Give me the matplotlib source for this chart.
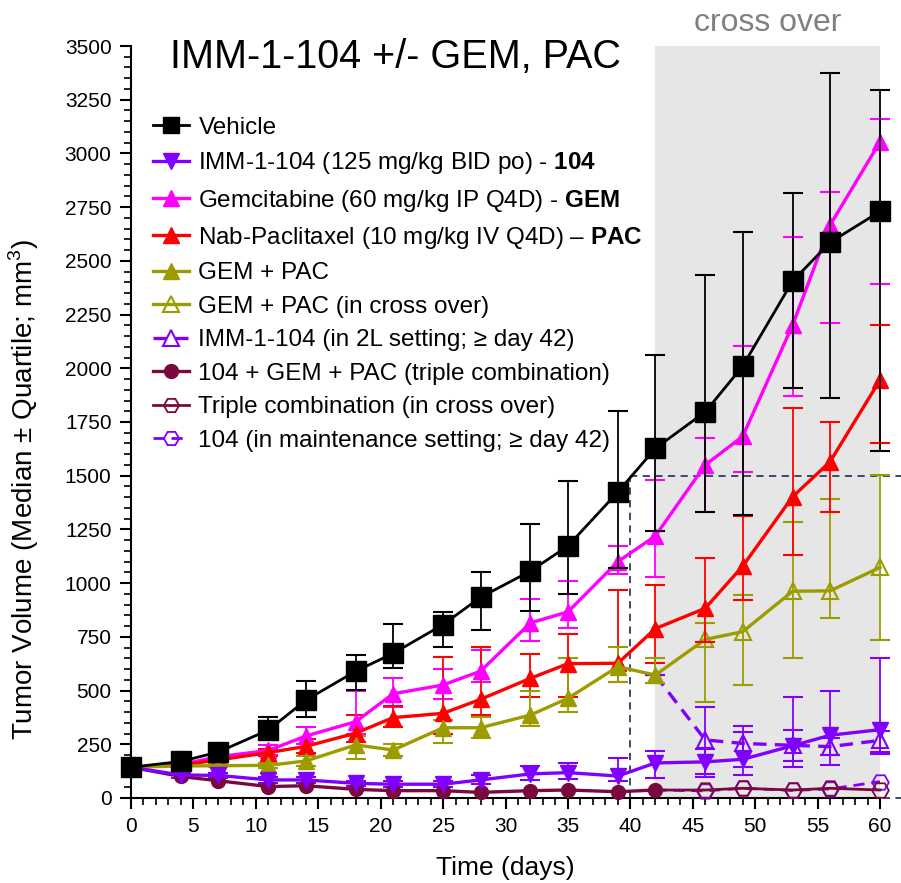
import numpy as np
import matplotlib.pyplot as plt
from matplotlib.lines import Line2D
from matplotlib.ticker import MultipleLocator

plt.rcParams['font.family'] = ['Liberation Sans', 'DejaVu Sans']
plt.rcParams['mathtext.fontset'] = 'custom'
plt.rcParams['mathtext.bf'] = 'Liberation Sans:bold'
plt.rcParams['mathtext.rm'] = 'Liberation Sans'

# study days
days = [0, 4, 7, 11, 14, 18, 21, 25, 28, 32, 35, 39, 42, 46, 49, 53, 56, 60]
days_pre = days[:13]          # 0..42
days_co = days[12:]           # 42..60 (cross over)

# Vehicle
veh = [143, 170, 214, 316, 455, 590, 673, 807, 934, 1056, 1173, 1424, 1627, 1797, 2010, 2406, 2586, 2730]
veh_lo = [135, 160, 200, 279, 378, 502, 605, 704, 783, 872, 949, 1071, 1242, 1332, 1317, 1907, 1863, 1615]
veh_hi = [150, 180, 228, 377, 543, 667, 810, 864, 1054, 1277, 1476, 1803, 2061, 2434, 2632, 2816, 3375, 3295]

# IMM-1-104
imm = [143, 107, 105, 84, 84, 68, 64, 64, 84, 112, 118, 102, 163, 168, 180, 243, 292, 318]
imm_lo = [138, 95, 92, 70, 70, 55, 50, 50, 65, 85, 90, 80, 92, 110, 107, 146, 154, 205]
imm_hi = [148, 118, 118, 98, 98, 80, 78, 78, 105, 150, 165, 185, 219, 230, 309, 468, 499, 653]

# Gemcitabine
gem = [143, 156, 192, 221, 288, 355, 485, 526, 590, 815, 866, 1100, 1219, 1550, 1683, 2201, 2666, 3054]
gem_lo = [135, 148, 180, 200, 250, 300, 425, 460, 541, 732, 792, 1042, 1030, 1332, 1518, 1871, 2213, 2390]
gem_hi = [150, 165, 205, 245, 331, 500, 557, 600, 689, 926, 1011, 1173, 1480, 1676, 2104, 2609, 2821, 3158]

# Nab-Paclitaxel
pac = [143, 153, 177, 211, 240, 302, 374, 394, 459, 557, 625, 627, 788, 883, 1079, 1402, 1565, 1945]
pac_lo = [135, 145, 165, 195, 210, 260, 330, 300, 386, 471, 471, 540, 627, 727, 921, 1131, 1332, 1650]
pac_hi = [150, 162, 190, 230, 275, 386, 430, 654, 704, 672, 761, 966, 991, 1119, 1312, 1813, 1751, 2201]

# GEM + PAC (days 0-42)
gp = [143, 149, 150, 152, 172, 247, 223, 327, 327, 386, 464, 611, 572]
gp_lo = [138, 143, 144, 140, 150, 183, 195, 254, 279, 336, 402, 541, 537]
gp_hi = [148, 155, 156, 165, 195, 287, 250, 363, 375, 500, 650, 702, 650]

# GEM + PAC in cross over (days 42-60)
gp_co = [572, 738, 774, 962, 964, 1073]
gp_co_lo = [572, 448, 526, 650, 836, 735]
gp_co_hi = [572, 816, 945, 1285, 1390, 1503]

# IMM-1-104 in 2L setting (days 42-60)
imm2l = [572, 270, 254, 245, 239, 268]
imm2l_lo = [572, 99, 142, 172, 200, 215]
imm2l_hi = [572, 422, 336, 316, 280, 310]

# triple combination
tri = [143, 100, 80, 53, 57, 40, 34, 34, 26, 34, 37, 29, 37]
tri_co = [37, 37, 45, 37, 45, 37]
maint = [37, 33, 45, 35, 42, 76]

BLACK = '#000000'
PURPLE = '#8000FF'
MAGENTA = '#FF00FF'
RED = '#FF0000'
OLIVE = '#9C9C00'
MAROON = '#7A0A3E'
BOX = '#2E3D5C'
DASH = (0, (4, 2.5))


def yerr(v, lo, hi):
    v = np.array(v, dtype=float)
    return [v - np.array(lo), np.array(hi) - v]


fig = plt.figure(figsize=(9.01, 8.83), dpi=100)
ax = fig.add_axes([0.1454, 0.0963, 0.8313, 0.8516])

ax.axvspan(42, 60, color='#E6E6E6', zorder=0, lw=0)

# dashed box marking the cross over window
ax.plot([40, 40], [0, 1500], ls=(0, (4, 3)), color=BOX, lw=1.3, clip_on=False, zorder=1)
ax.plot([40, 61.7], [1500, 1500], ls=(0, (4, 3)), color=BOX, lw=1.3, clip_on=False, zorder=1)
ax.plot([40, 61.7], [0, 0], ls=(0, (4, 3)), color=BOX, lw=1.3, clip_on=False, zorder=1)

eb = dict(capsize=7, elinewidth=1.3, capthick=1.5, clip_on=False)

ax.errorbar(days, gem, yerr=yerr(gem, gem_lo, gem_hi), color=MAGENTA, marker='^', ms=12, lw=2.4,
            zorder=5, **eb)
ax.errorbar(days, pac, yerr=yerr(pac, pac_lo, pac_hi), color=RED, marker='^', ms=12, lw=2.4,
            zorder=5, **eb)
ax.errorbar(days_pre, gp, yerr=yerr(gp, gp_lo, gp_hi), color=OLIVE, marker='^', ms=12, lw=2.4,
            zorder=5, **eb)
ax.errorbar(days_co, gp_co, yerr=yerr(gp_co, gp_co_lo, gp_co_hi), color=OLIVE, marker='^', ms=12,
            mfc='none', mew=1.5, lw=2.4, markevery=slice(1, None), zorder=4, **eb)
ax.errorbar(days_co, imm2l, yerr=yerr(imm2l, imm2l_lo, imm2l_hi), color=PURPLE, marker='^', ms=12,
            mfc='none', mew=1.5, lw=2.4, ls=DASH, markevery=slice(1, None), zorder=4, **eb)
ax.errorbar(days, imm, yerr=yerr(imm, imm_lo, imm_hi), color=PURPLE, marker='v', ms=12, lw=2.4,
            zorder=6, **eb)
ax.plot(days_pre, tri, color=MAROON, marker='o', ms=10, lw=2.4, clip_on=False, zorder=6)
ax.plot(days_co, maint, color=PURPLE, marker='H', ms=12, mfc='none', mew=1.3, lw=2.0,
        ls=DASH, markevery=slice(1, None), clip_on=False, zorder=5)
ax.plot(days_co, tri_co, color=MAROON, marker='H', ms=12, mfc='none', mew=1.3, lw=2.0,
        markevery=slice(1, None), clip_on=False, zorder=5)
ax.errorbar(days, veh, yerr=yerr(veh, veh_lo, veh_hi), color=BLACK, marker='s', ms=14, lw=2.0,
            zorder=7, **eb)

ax.set_xlim(0, 60)
ax.set_ylim(0, 3500)
ax.xaxis.set_major_locator(MultipleLocator(5))
ax.xaxis.set_minor_locator(MultipleLocator(1))
ax.yaxis.set_major_locator(MultipleLocator(250))
ax.yaxis.set_minor_locator(MultipleLocator(50))
for s in ['top', 'right']:
    ax.spines[s].set_visible(False)
for s in ['left', 'bottom']:
    ax.spines[s].set_linewidth(1.5)
ax.tick_params(which='major', length=8, width=1.5, labelsize=15, pad=6)
ax.tick_params(which='minor', length=5, width=1.2)

ax.set_xlabel('Time (days)', fontsize=19, labelpad=14)
ax.set_ylabel('Tumor Volume (Median ± Quartile; mm$^3$)', fontsize=20)
ax.yaxis.set_label_coords(-0.12, 0.41)

ax.text(21.2, 0.985 * 3500, 'IMM-1-104 +/- GEM, PAC', fontsize=28.5, ha='center', va='center')
ax.text(51, 3500 * 1.031, 'cross over', fontsize=23, color='#808080', ha='center', va='center',
        clip_on=False)

# legend handles: line + marker only
leg_items = [
    (dict(color=BLACK, marker='s', ms=12, lw=2.0), 'Vehicle'),
    (dict(color=PURPLE, marker='v', ms=11, lw=2.4), r'IMM-1-104 (125 mg/kg BID po) - $\mathbf{104}$'),
    (dict(color=MAGENTA, marker='^', ms=11, lw=2.4), r'Gemcitabine (60 mg/kg IP Q4D) - $\mathbf{GEM}$'),
    (dict(color=RED, marker='^', ms=11, lw=2.4), r'Nab-Paclitaxel (10 mg/kg IV Q4D) – $\mathbf{PAC}$'),
    (dict(color=OLIVE, marker='^', ms=11, lw=2.4), 'GEM + PAC'),
    (dict(color=OLIVE, marker='^', ms=11, lw=2.4, mfc='none', mew=1.5), 'GEM + PAC (in cross over)'),
    (dict(color=PURPLE, marker='^', ms=11, lw=2.4, mfc='none', mew=1.5, ls=DASH),
     u'IMM-1-104 (in 2L setting; \u2265 day 42)'),
    (dict(color=MAROON, marker='o', ms=10, lw=2.4), '104 + GEM + PAC (triple combination)'),
    (dict(color=MAROON, marker='H', ms=11, lw=2.0, mfc='none', mew=1.3), 'Triple combination (in cross over)'),
    (dict(color=PURPLE, marker='H', ms=11, lw=2.0, mfc='none', mew=1.3, ls=DASH),
     u'104 (in maintenance setting; \u2265 day 42)'),
]
handles = [Line2D([], [], **kw) for kw, _ in leg_items]
labels = [lab for _, lab in leg_items]
ax.legend(handles, labels, loc='upper left', bbox_to_anchor=(0.03, 0.906), frameon=False,
          fontsize=17.5, handlelength=1.45, handletextpad=0.4, labelspacing=0.47,
          borderpad=0, borderaxespad=0)

fig.savefig('out.png', dpi=100)
